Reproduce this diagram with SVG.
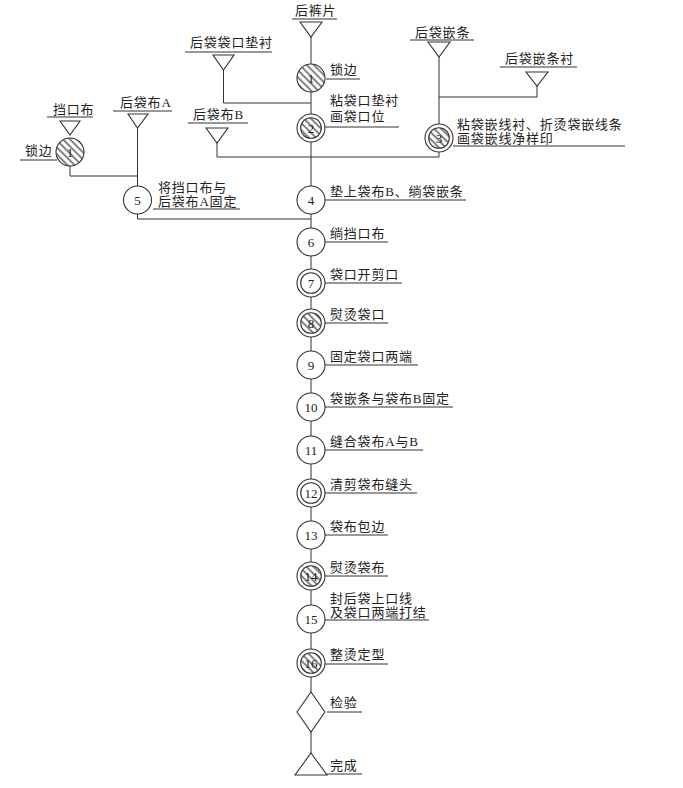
<svg xmlns="http://www.w3.org/2000/svg" width="683" height="788" viewBox="0 0 683 788">
<defs>
<pattern id="h" width="5" height="5" patternUnits="userSpaceOnUse" patternTransform="rotate(-45)">
<rect width="5" height="5" fill="#fff"/>
<line x1="1" y1="0" x2="1" y2="5" stroke="#333" stroke-width="1.2"/>
</pattern>
</defs>
<style>
.l{stroke:#333;stroke-width:1;fill:none}
.c{stroke:#333;stroke-width:1.1;fill:#fff}
.hc{stroke:#333;stroke-width:1.1;fill:url(#h)}
.t{font-family:"Liberation Serif","Noto Sans CJK SC",serif;font-size:13px;letter-spacing:0.8px;fill:#222}
.n{font-family:"Liberation Serif","Noto Sans CJK SC",serif;font-size:13px;fill:#222;text-anchor:middle}
</style>
<rect width="683" height="788" fill="#fff"/>
<g id="connectors" class="l">
<line x1="311" y1="37" x2="311" y2="753"/>
<polyline points="223.5,70 223.5,103 311,103"/>
<polyline points="217,143 217,157 439,157"/>
<line x1="439" y1="57" x2="439" y2="157"/>
<polyline points="537,86 537,97 439,97"/>
<polyline points="70,166 70,176 137.5,176"/>
<line x1="137.5" y1="128" x2="137.5" y2="219"/>
<line x1="137.5" y1="219" x2="311" y2="219"/>
</g>
<g id="in_houkupian">
<text class="t" x="295" y="15">后裤片</text>
<line class="l" x1="292" y1="19" x2="337" y2="19"/>
<polygon class="c" points="300,22 322,22 311,37"/>
</g>
<g id="in_diancen">
<text class="t" x="190" y="47">后袋袋口垫衬</text>
<line class="l" x1="185" y1="52" x2="272" y2="52"/>
<polygon class="c" points="213,55 234,55 223.5,70"/>
</g>
<g id="in_daibuB">
<text class="t" x="193" y="119">后袋布B</text>
<line class="l" x1="188" y1="123" x2="248" y2="123"/>
<polygon class="c" points="206,128 228,128 217,143"/>
</g>
<g id="in_qiantiao">
<text class="t" x="415" y="37">后袋嵌条</text>
<line class="l" x1="410" y1="40" x2="474" y2="40"/>
<polygon class="c" points="428,42 450,42 439,57"/>
</g>
<g id="in_qiantiaocen">
<text class="t" x="505" y="63">后袋嵌条衬</text>
<line class="l" x1="500" y1="67" x2="577" y2="67"/>
<polygon class="c" points="526,72 548,72 537,86"/>
</g>
<g id="in_dangkoubu">
<text class="t" x="53" y="114">挡口布</text>
<line class="l" x1="47" y1="117" x2="93" y2="117"/>
<polygon class="c" points="60,121 80,121 70,135"/>
</g>
<g id="in_daibuA">
<text class="t" x="120" y="107">后袋布A</text>
<line class="l" x1="113" y1="111" x2="172" y2="111"/>
<polygon class="c" points="128,114 148,114 137.5,128"/>
</g>
<g id="nL">
<circle class="hc" cx="70" cy="152" r="14"/>
<text class="n" x="70" y="156.5">1</text>
<text class="t" x="25" y="155">锁边</text>
<line class="l" x1="20" y1="160" x2="57" y2="160"/>
</g>
<g id="n1">
<circle class="hc" cx="311" cy="78" r="14"/>
<text class="n" x="311" y="82.5">1</text>
<text class="t" x="330" y="74">锁边</text>
<line class="l" x1="326" y1="79" x2="360" y2="79"/>
</g>
<g id="n2">
<circle class="c" cx="311" cy="128" r="14"/>
<circle class="hc" cx="311" cy="128" r="10.3"/>
<text class="n" x="311" y="132.5">2</text>
<text class="t" x="330" y="105">粘袋口垫衬</text>
<text class="t" x="330" y="121">画袋口位</text>
<line class="l" x1="325" y1="127" x2="399" y2="127"/>
</g>
<g id="n3">
<circle class="c" cx="439" cy="138" r="14"/>
<circle class="hc" cx="439" cy="138" r="10.3"/>
<text class="n" x="439" y="142.5">3</text>
<text class="t" x="457" y="129">粘袋嵌线衬、折烫袋嵌线条</text>
<text class="t" x="457" y="143">画袋嵌线净样印</text>
<line class="l" x1="453" y1="146" x2="625" y2="146"/>
</g>
<g id="n5">
<circle class="c" cx="137.5" cy="200" r="14"/>
<text class="n" x="137.5" y="204.5">5</text>
<text class="t" x="158" y="192">将挡口布与</text>
<text class="t" x="158" y="206">后袋布A固定</text>
<line class="l" x1="153" y1="209" x2="240" y2="209"/>
</g>
<g id="n4">
<circle class="c" cx="311" cy="200" r="14"/>
<text class="n" x="311" y="204.5">4</text>
<text class="t" x="330" y="196">垫上袋布B、绱袋嵌条</text>
<line class="l" x1="325" y1="200" x2="466" y2="200"/>
</g>
<g id="n6">
<circle class="c" cx="311" cy="242" r="14"/>
<text class="n" x="311" y="246.5">6</text>
<text class="t" x="330" y="238">绱挡口布</text>
<line class="l" x1="325" y1="242" x2="388" y2="242"/>
</g>
<g id="n7">
<circle class="c" cx="311" cy="283" r="14"/>
<circle class="c" cx="311" cy="283" r="10.3"/>
<text class="n" x="311" y="287.5">7</text>
<text class="t" x="330" y="279">袋口开剪口</text>
<line class="l" x1="325" y1="283" x2="402" y2="283"/>
</g>
<g id="n8">
<circle class="c" cx="311" cy="323" r="14"/>
<circle class="hc" cx="311" cy="323" r="10.3"/>
<text class="n" x="311" y="327.5">8</text>
<text class="t" x="330" y="319">熨烫袋口</text>
<line class="l" x1="325" y1="323" x2="388" y2="323"/>
</g>
<g id="n9">
<circle class="c" cx="311" cy="365" r="14"/>
<text class="n" x="311" y="369.5">9</text>
<text class="t" x="330" y="361">固定袋口两端</text>
<line class="l" x1="325" y1="365" x2="418" y2="365"/>
</g>
<g id="n10">
<circle class="c" cx="311" cy="407" r="14"/>
<text class="n" x="311" y="411.5">10</text>
<text class="t" x="330" y="403">袋嵌条与袋布B固定</text>
<line class="l" x1="325" y1="407" x2="453" y2="407"/>
</g>
<g id="n11">
<circle class="c" cx="311" cy="450" r="14"/>
<text class="n" x="311" y="454.5">11</text>
<text class="t" x="330" y="446">缝合袋布A与B</text>
<line class="l" x1="325" y1="450" x2="423" y2="450"/>
</g>
<g id="n12">
<circle class="c" cx="311" cy="493" r="14"/>
<circle class="c" cx="311" cy="493" r="10.3"/>
<text class="n" x="311" y="497.5">12</text>
<text class="t" x="330" y="489">清剪袋布缝头</text>
<line class="l" x1="325" y1="493" x2="417" y2="493"/>
</g>
<g id="n13">
<circle class="c" cx="311" cy="535" r="14"/>
<text class="n" x="311" y="539.5">13</text>
<text class="t" x="330" y="531">袋布包边</text>
<line class="l" x1="325" y1="535" x2="388" y2="535"/>
</g>
<g id="n14">
<circle class="c" cx="311" cy="576" r="14"/>
<circle class="hc" cx="311" cy="576" r="10.3"/>
<text class="n" x="311" y="580.5">14</text>
<text class="t" x="330" y="572">熨烫袋布</text>
<line class="l" x1="325" y1="576" x2="388" y2="576"/>
</g>
<g id="n15">
<circle class="c" cx="311" cy="619" r="14"/>
<text class="n" x="311" y="623.5">15</text>
<text class="t" x="330" y="603">封后袋上口线</text>
<text class="t" x="330" y="617">及袋口两端打结</text>
<line class="l" x1="325" y1="620" x2="429" y2="620"/>
</g>
<g id="n16">
<circle class="c" cx="311" cy="663" r="14"/>
<circle class="hc" cx="311" cy="663" r="10.3"/>
<text class="n" x="311" y="667.5">16</text>
<text class="t" x="330" y="659">整烫定型</text>
<line class="l" x1="325" y1="664" x2="388" y2="664"/>
</g>
<g id="inspect">
<polygon class="c" points="311,692 325,712 311,732 297,712"/>
<text class="t" x="330" y="707">检验</text>
<line class="l" x1="327" y1="712" x2="362" y2="712"/>
</g>
<g id="finish">
<polygon class="c" points="311,753 327,775 295,775"/>
<text class="t" x="330" y="770">完成</text>
<line class="l" x1="327" y1="774" x2="362" y2="774"/>
</g>
</svg>
